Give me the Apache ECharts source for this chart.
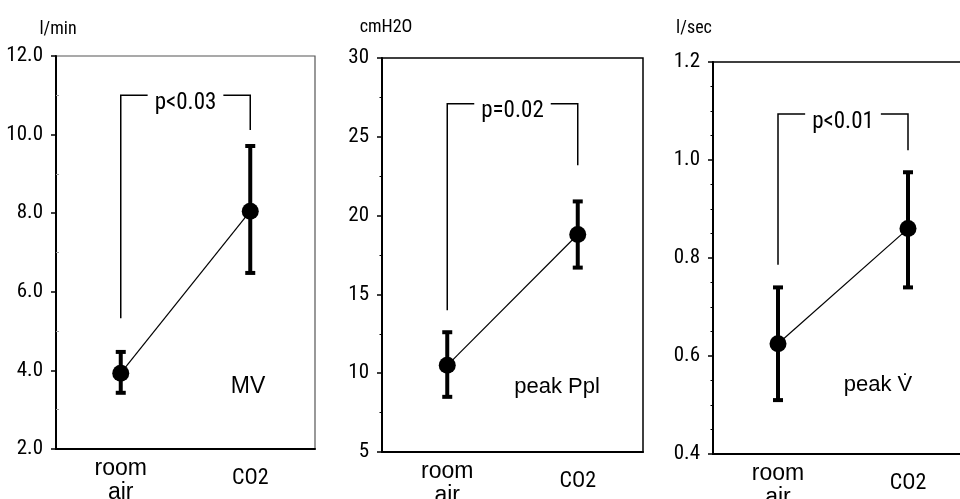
<!DOCTYPE html>
<html><head><meta charset="utf-8">
<script src="https://cdn.jsdelivr.net/npm/echarts@6/dist/echarts.min.js"></script>
<style>html,body{margin:0;padding:0;background:#fff}#c{width:960px;height:499px}</style>
</head><body><div id="c"></div>
<script>
// ---- data ----
const categories = ['room air', 'CO2'];
const mvMean  = [3.93, 8.05];
const mvUpper = [4.47, 9.71];
const mvLower = [3.43, 6.48];
const pplMean  = [10.5, 18.8];
const pplUpper = [12.6, 20.9];
const pplLower = [8.5, 16.7];
const vMean  = [0.625, 0.86];
const vUpper = [0.74, 0.975];
const vLower = [0.51, 0.74];
// bracket: [top level, left leg bottom, right leg bottom]
const mvBracket  = [11.0, 5.33, 10.12];
const pplBracket = [27.1, 14.0, 23.2];
const vBracket   = [1.094, 0.786, 1.02];
const pLabels = ['p<0.03', 'p=0.02', 'p<0.01'];
const units = ['l/min', 'cmH2O', 'l/sec'];
const names = ['MV', 'peak Ppl', 'peak V\u0307'];
const yMin = [2, 5, 0.4];
const yMax = [12, 30, 1.2];
const yInterval = [2, 5, 0.2];
const yDecimals = [1, 0, 1];
const mvMinorTicks = [3, 5, 7, 9, 11];

// ---- styles ----
const COND = "'Roboto Condensed', 'Open Sans', sans-serif";
const REG = "'Liberation Sans', Arial, Helvetica, sans-serif";
const grids = [
  {left: 56, top: 56, width: 259, height: 393},
  {left: 382, top: 58, width: 261, height: 394},
  {left: 713, top: 62, width: 260, height: 392}
];
const minorSplit = [2, 2, 4];
const means = [mvMean, pplMean, vMean];
const uppers = [mvUpper, pplUpper, vUpper];
const lowers = [mvLower, pplLower, vLower];
const brackets = [mvBracket, pplBracket, vBracket];

const option = {
  animation: false,
  backgroundColor: '#fff',
  grid: grids.map((g, i) => Object.assign({
    show: true, containLabel: false, outerBoundsMode: 'none',
    borderColor: i === 0 ? '#555' : '#000', borderWidth: i === 0 ? 1.2 : 1.5,
    backgroundColor: 'transparent'}, g)),
  xAxis: grids.map((g, i) => ({
    type: 'category', gridIndex: i, data: categories, boundaryGap: true,
    axisLine: {lineStyle: {color: '#000', width: 2}},
    axisTick: {alignWithLabel: true, length: 3, lineStyle: {color: '#000'}},
    axisLabel: {
      margin: 8, interval: 0,
      formatter: v => v === 'CO2' ? '{c|CO2}' : '{r|room}\n{r|air}',
      rich: {
        r: {fontFamily: REG, fontSize: 23, lineHeight: 24, color: '#000'},
        c: {fontFamily: COND, fontSize: 22, lineHeight: 24, color: '#000', padding: [19, 0, 0, 0]}
      }
    }
  })),
  yAxis: grids.map((g, i) => ({
    type: 'value', gridIndex: i, min: yMin[i], max: yMax[i], interval: yInterval[i],
    splitLine: {show: false},
    axisLine: {show: true, lineStyle: {color: '#000', width: 2}},
    axisTick: {show: true, length: 5, lineStyle: {color: '#000', width: 1.5}},
    minorTick: {show: i > 0, splitNumber: minorSplit[i], length: 2.5, lineStyle: {color: '#000', width: 1}},
    axisLabel: {margin: 13, fontFamily: COND, fontSize: 21, color: '#000',
      formatter: v => Number(v).toFixed(yDecimals[i])}
  })).concat([{
    // faint inner minor ticks of the first panel
    type: 'value', gridIndex: 0, position: 'left', min: yMin[0], max: yMax[0], interval: 1,
    splitLine: {show: false}, axisLine: {show: false}, axisLabel: {show: false},
    axisTick: {show: true, inside: true, length: 3, customValues: mvMinorTicks, lineStyle: {color: '#999', width: 1}}
  }]),
  series: [],
  graphic: []
};

for (let i = 0; i < 3; i++) {
  // error bars
  option.series.push({
    type: 'custom', xAxisIndex: i, yAxisIndex: i, z: 2,
    data: categories.map((c, k) => [k, lowers[i][k], uppers[i][k]]),
    renderItem: (params, api) => {
      const x = api.value(0);
      const lo = api.coord([x, api.value(1)]);
      const hi = api.coord([x, api.value(2)]);
      const w = 5;
      const st = {stroke: '#000', lineWidth: 4};
      return {type: 'group', children: [
        {type: 'line', shape: {x1: hi[0], y1: hi[1], x2: lo[0], y2: lo[1]}, style: st},
        {type: 'line', shape: {x1: hi[0] - w, y1: hi[1], x2: hi[0] + w, y2: hi[1]}, style: st},
        {type: 'line', shape: {x1: lo[0] - w, y1: lo[1], x2: lo[0] + w, y2: lo[1]}, style: st}
      ]};
    }
  });
  // mean line + markers
  option.series.push({
    type: 'line', xAxisIndex: i, yAxisIndex: i, z: 3,
    data: means[i],
    symbol: 'circle', symbolSize: 17,
    itemStyle: {color: '#000'},
    lineStyle: {color: '#000', width: 1.2}
  });
  // significance bracket
  const b = brackets[i];
  const lbl = pLabels[i];
  option.series.push({
    type: 'custom', xAxisIndex: i, yAxisIndex: i, z: 4,
    data: [[0, 1, b[0], b[1], b[2]]],
    renderItem: (params, api) => {
      const yTop = api.value(2);
      const pL = api.coord([api.value(0), api.value(3)]);
      const pLT = api.coord([api.value(0), yTop]);
      const pRT = api.coord([api.value(1), yTop]);
      const pR = api.coord([api.value(1), api.value(4)]);
      return {type: 'group', children: [
        {type: 'polyline', shape: {points: [pL, pLT, pRT, pR]}, style: {stroke: '#000', lineWidth: 1.5, fill: null}},
        {type: 'text', x: (pLT[0] + pRT[0]) / 2, y: pLT[1] - 4, z2: 10,
          style: {text: lbl, fontFamily: COND, fontSize: 23, lineHeight: 24, fill: '#000',
            align: 'center', verticalAlign: 'top', backgroundColor: '#fff', padding: [0, 7]}}
      ]};
    }
  });
}

// unit labels & panel names (text)
const unitPos = [[58, 29], [386, 27], [694, 28]];
const namePos = [[248, 387], [557, 387], [878, 385]];
units.forEach((u, i) => option.graphic.push({type: 'text', x: unitPos[i][0], y: unitPos[i][1],
  style: {text: u, fontFamily: COND, fontSize: 18, fill: '#000', align: 'center', verticalAlign: 'middle'}}));
names.forEach((n, i) => option.graphic.push({type: 'text', x: namePos[i][0], y: namePos[i][1],
  style: {text: n, fontFamily: REG, fontSize: i === 0 ? 23 : 22, fill: '#000', align: 'center', verticalAlign: 'middle'}}));

const chart = echarts.init(document.getElementById('c'), null, {renderer: 'canvas'});
chart.setOption(option);
</script></body></html>
